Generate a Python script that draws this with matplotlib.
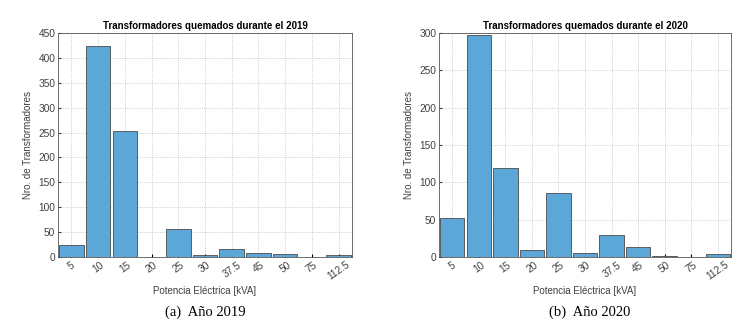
import numpy as np
import matplotlib
matplotlib.use("Agg")
import matplotlib.pyplot as plt

# --- DATOS ---
potencias = ['5', '10', '15', '20', '25', '30', '37.5', '45', '50', '75', '112.5']
quemados_2019 = [24, 423, 253, 1, 57, 5, 17, 8, 7, 0, 5]
quemados_2020 = [52, 297, 119, 10, 86, 6, 29, 14, 2, 0, 4]

color_barra = '#5aa7d8'
color_borde = '#4a4a4a'

fig = plt.figure(figsize=(7.43, 3.24), dpi=100)
plt.rcParams['font.family'] = ['Liberation Sans', 'DejaVu Sans']

def dibujar(ax, valores, anio, ymax, paso):
    x = np.arange(1, len(potencias) + 1)
    ax.bar(x, valores, width=0.92, color=color_barra, edgecolor=color_borde, linewidth=0.6, zorder=3)
    ax.set_xlim(0.5, len(potencias) + 0.5)
    ax.set_ylim(0, ymax)
    ax.set_yticks(np.arange(0, ymax + 1, paso))
    ax.set_xticks(x)
    ax.set_xticklabels(potencias, rotation=35, fontsize=7.3, color='#404040')
    ax.tick_params(axis='y', labelsize=7.3, colors='#404040', length=2, direction='in', pad=2)
    ax.tick_params(axis='x', length=2, direction='in', pad=2)
    ax.grid(True, linestyle=':', color='#bcbcbc', linewidth=0.6, zorder=0)
    for s in ax.spines.values():
        s.set_color('#555555')
        s.set_linewidth(0.6)
    ax.set_title('Transformadores quemados durante el ' + anio, fontsize=7, fontweight='bold', pad=3)
    ax.set_xlabel('Potencia Eléctrica [kVA]', fontsize=7, color='#404040', labelpad=3)
    ax.set_ylabel('Nro. de Transformadores', fontsize=7, color='#404040')

ax1 = fig.add_axes([58 / 743, 1 - 257 / 324, 294 / 743, 224 / 324])
dibujar(ax1, quemados_2019, '2019', 450, 50)
ax2 = fig.add_axes([439 / 743, 1 - 257 / 324, 292 / 743, 224 / 324])
dibujar(ax2, quemados_2020, '2020', 300, 50)

fig.text(205 / 743, 1 - 312 / 324, '(a)  Año 2019', ha='center', va='center', fontsize=10.5,
         family=['Liberation Serif', 'DejaVu Serif'])
fig.text(590 / 743, 1 - 312 / 324, '(b)  Año 2020', ha='center', va='center', fontsize=10.5,
         family=['Liberation Serif', 'DejaVu Serif'])

fig.savefig('out.png', dpi=100)
